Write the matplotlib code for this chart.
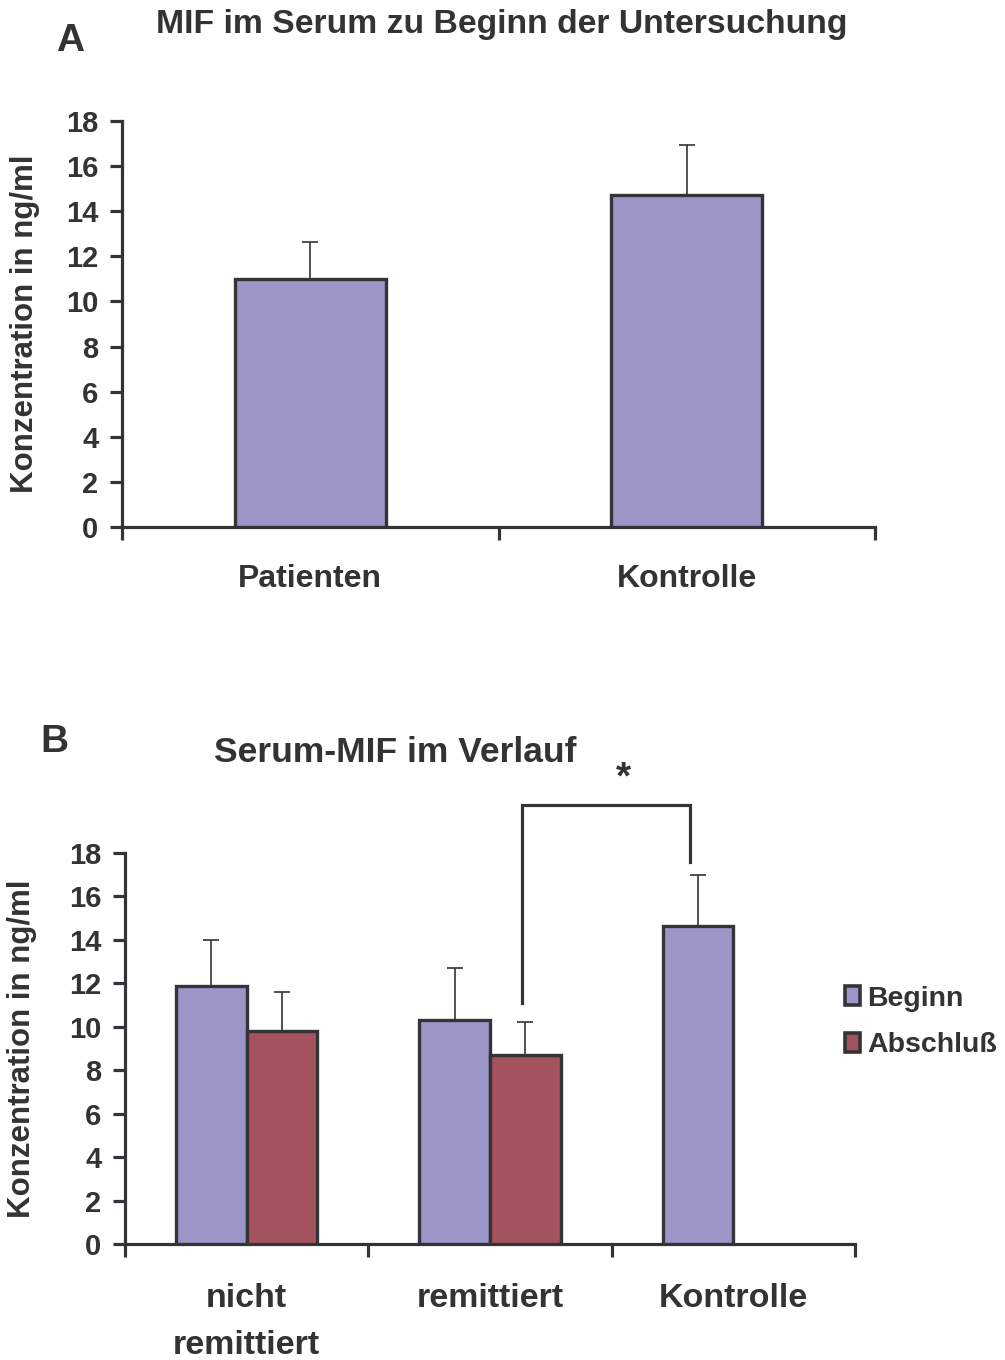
import matplotlib
matplotlib.use("Agg")
import matplotlib.pyplot as plt
from matplotlib.patches import Patch

plt.rcParams['font.family'] = ['Liberation Sans', 'DejaVu Sans']
plt.rcParams['font.weight'] = 'bold'

# Panel A: MIF at study start
cats_a = ["Patienten", "Kontrolle"]
vals_a = [11.0, 14.7]
errs_a = [1.65, 2.25]

# Panel B: MIF over the course of treatment
cats_b = ["nicht\nremittiert", "remittiert", "Kontrolle"]
beginn_vals = [11.9, 10.3, 14.65]
beginn_errs = [2.1, 2.4, 2.35]
abschluss_vals = [9.8, 8.7]
abschluss_errs = [1.8, 1.5]
series_names = ["Beginn", "Abschluß"]

y_ticks = [0, 2, 4, 6, 8, 10, 12, 14, 16, 18]

PURPLE = "#9b95c8"
MAROON = "#a5525f"
DARK = "#343438"
TXT = "#333336"

W, H = 1005, 1360
fig = plt.figure(figsize=(W / 100, H / 100), dpi=100)


def frac_axes(x0, x1, ytop, ybot):
    return fig.add_axes([x0 / W, 1 - ybot / H, (x1 - x0) / W, (ybot - ytop) / H])


def style_axes(ax, ncat, labels, cat_size, cat_pad):
    for s in ("top", "right"):
        ax.spines[s].set_visible(False)
    for s in ("left", "bottom"):
        ax.spines[s].set_linewidth(2.3)
        ax.spines[s].set_color(DARK)
    ax.set_ylim(0, 18)
    ax.set_yticks(y_ticks)
    ax.set_xlim(-0.5, ncat - 0.5)
    ax.set_xticks([i - 0.5 for i in range(ncat + 1)])
    ax.set_xticklabels([])
    ax.set_xticks(list(range(ncat)), minor=True)
    ax.set_xticklabels(labels, minor=True)
    ax.tick_params(axis="x", which="major", length=9, width=2.3, color=DARK, direction="out")
    ax.tick_params(axis="x", which="minor", length=0, pad=cat_pad, labelsize=cat_size,
                   labelcolor=TXT)
    ax.tick_params(axis="y", length=9, width=2.3, color=DARK, direction="out",
                   pad=8, labelsize=21, labelcolor=TXT)
    ax.set_ylabel("Konzentration in ng/ml", fontsize=22.5, color=TXT, fontweight="bold")
    for t in ax.get_xticklabels(minor=True) + ax.get_yticklabels():
        t.set_fontweight("bold")


# ---- Panel A ----
ax_a = frac_axes(122, 875, 121, 527)
xa = list(range(len(cats_a)))
ax_a.bar(xa, vals_a, width=0.40, color=PURPLE, edgecolor=DARK, linewidth=2.4, zorder=3)
ax_a.errorbar(xa, vals_a, yerr=[[0] * len(vals_a), errs_a], fmt="none",
              ecolor=DARK, elinewidth=1.2, capsize=5.5, capthick=1.2, zorder=2)
style_axes(ax_a, len(cats_a), cats_a, 23, 27)
ax_a.yaxis.set_label_coords(-0.109, 0.5)
fig.text(502 / W, 1 - 25 / H, "MIF im Serum zu Beginn der Untersuchung",
         ha="center", va="center", fontsize=24.3, color=TXT, fontweight="bold")
fig.text(70 / W, 1 - 41 / H, "A", ha="center", va="center",
         fontsize=28, color=TXT, fontweight="bold")

# ---- Panel B ----
ax_b = frac_axes(125, 855, 853, 1244)
bw = 0.29
xb = list(range(len(cats_b)))
ax_b.bar([x - bw / 2 for x in xb], beginn_vals, width=bw, color=PURPLE,
         edgecolor=DARK, linewidth=2.4, zorder=3, label=series_names[0])
ax_b.bar([x + bw / 2 for x in xb[:len(abschluss_vals)]], abschluss_vals, width=bw,
         color=MAROON, edgecolor=DARK, linewidth=2.4, zorder=3, label=series_names[1])
ax_b.errorbar([x - bw / 2 for x in xb], beginn_vals,
              yerr=[[0] * len(beginn_vals), beginn_errs], fmt="none",
              ecolor=DARK, elinewidth=1.2, capsize=5.5, capthick=1.2, zorder=2)
ax_b.errorbar([x + bw / 2 for x in xb[:len(abschluss_vals)]], abschluss_vals,
              yerr=[[0] * len(abschluss_vals), abschluss_errs], fmt="none",
              ecolor=DARK, elinewidth=1.2, capsize=5.5, capthick=1.2, zorder=2)
style_axes(ax_b, len(cats_b), cats_b, 24.5, 28)
ax_b.yaxis.set_label_coords(-0.12, 0.5)
for t in ax_b.get_xticklabels(minor=True):
    t.set_linespacing(1.68)
    t.set_verticalalignment("top")

# significance bracket between remittiert (Abschluß) and Kontrolle
bx0 = 1.132
bx1 = 1.82
ax_b.plot([bx0, bx0, bx1, bx1], [11.1, 20.2, 20.2, 17.6], color=DARK,
          linewidth=2.3, clip_on=False, solid_joinstyle="miter")
ax_b.text(1.55, 21.45, "*", ha="center", va="center", fontsize=28,
          color=TXT, fontweight="bold", clip_on=False)

fig.text(395 / W, 1 - 752 / H, "Serum-MIF im Verlauf", ha="center", va="center",
         fontsize=25.5, color=TXT, fontweight="bold")
fig.text(54 / W, 1 - 742 / H, "B", ha="center", va="center",
         fontsize=28, color=TXT, fontweight="bold")

handles = [Patch(facecolor=PURPLE, edgecolor=DARK, linewidth=2.6),
           Patch(facecolor=MAROON, edgecolor=DARK, linewidth=2.6)]
fig.legend(handles, series_names, loc="center left",
           bbox_to_anchor=(819 / W, 1 - 1022 / H), frameon=False,
           handlelength=0.55, handleheight=0.65, handletextpad=0.25,
           labelspacing=0.72, prop={"size": 20.5, "weight": "bold"},
           labelcolor=TXT)

fig.savefig("out.png", dpi=100)
